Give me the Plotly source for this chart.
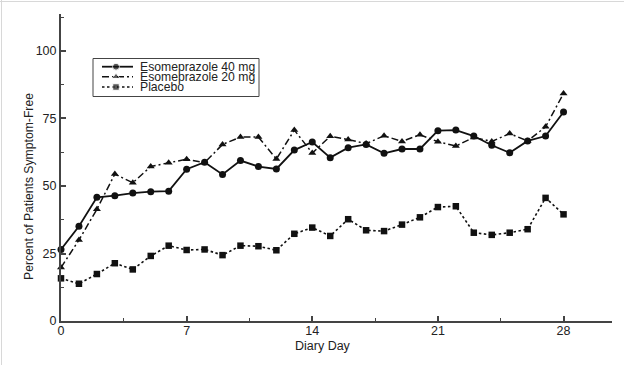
import plotly.graph_objects as go

# ---------------- data ----------------
days = list(range(29))
eso40 = [26.5, 35.1, 45.8, 46.4, 47.4, 47.9, 48.1, 56.2, 58.8, 54.3, 59.4, 57.2, 56.3, 63.3, 66.3,
         60.5, 64.2, 65.4, 62.1, 63.7, 63.7, 70.5, 70.7, 68.5, 65.1, 62.3, 66.7, 68.5, 77.4]
eso20 = [19.8, 30.0, 41.4, 54.4, 51.2, 57.2, 58.6, 59.9, 58.6, 65.4, 68.1, 68.1, 60.0, 70.7, 62.2,
         68.4, 67.2, 65.7, 68.6, 66.5, 69.0, 66.4, 64.8, 68.0, 66.5, 69.4, 66.7, 71.9, 84.3]
placebo = [15.8, 13.8, 17.4, 21.4, 19.1, 24.1, 27.9, 26.3, 26.5, 24.4, 27.9, 27.7, 26.2, 32.3, 34.6,
           31.5, 37.7, 33.6, 33.3, 35.7, 38.4, 42.2, 42.5, 32.7, 31.9, 32.7, 34.0, 45.6, 39.5]
series_names = ["Esomeprazole 40 mg", "Esomeprazole 20 mg", "Placebo"]
x_ticks = [0, 7, 14, 21, 28]
y_ticks = [0, 25, 50, 75, 100]
x_title = "Diary Day"
y_title = "Percent of Patients Symptom-Free"

# ---------------- layout geometry (page pixels) ----------------
W, H = 624, 365
L, R, T, B = 61, 12, 14, 44
PW, PH = W - L - R, H - T - B
FONT = "Liberation Sans, Arial, Helvetica, sans-serif"
INK = "#111111"
AX = "#444444"
TXT = "#222222"

def px(xp):
    return (xp - L) / PW

def py(yp):
    return (H - B - yp) / PH

styles = [
    dict(dash="solid", width=1.8, symbol="circle", size=7),
    dict(dash="7px,3px,2px,3px", width=1.5, symbol="triangle-up", size=7),
    dict(dash="2.5px,2.5px", width=1.6, symbol="square", size=6.5),
]

fig = go.Figure()
for name, vals, st in zip(series_names, [eso40, eso20, placebo], styles):
    fig.add_trace(go.Scatter(
        x=days, y=vals, name=name, mode="lines+markers",
        line=dict(color=INK, width=st["width"], dash=st["dash"]),
        marker=dict(symbol=st["symbol"], size=st["size"], color=INK),
        cliponaxis=False, showlegend=False,
    ))

# custom (compact) legend drawn on a pixel-scaled overlay axis
rows = [66.7, 76.7, 87.0]
for name, st, ry in zip(series_names, styles, rows):
    fig.add_trace(go.Scatter(
        x=[102, 116, 133], y=[ry, ry, ry], xaxis="x2", yaxis="y2",
        mode="lines+markers",
        line=dict(color=INK, width=st["width"], dash=st["dash"]),
        marker=dict(symbol=st["symbol"], size=[0, st["size"], 0], color=INK),
        showlegend=False, hoverinfo="skip",
    ))
    fig.add_annotation(x=px(138), y=py(ry), xref="paper", yref="paper", text=name,
                       showarrow=False, xanchor="left", yanchor="middle",
                       font=dict(family=FONT, size=12.2, color=TXT))

fig.add_shape(type="rect", xref="paper", yref="paper", x0=px(93), x1=px(259),
              y0=py(58.5), y1=py(96.5),
              line=dict(color="#444", width=1), fillcolor="rgba(0,0,0,0)", layer="below")

# axis titles
fig.add_annotation(x=px(323), y=py(345.5), xref="paper", yref="paper", text=x_title,
                   showarrow=False, xanchor="center", yanchor="middle",
                   font=dict(family=FONT, size=12.5, color=TXT))
fig.add_annotation(x=px(29), y=py(187), xref="paper", yref="paper", text=y_title,
                   showarrow=False, textangle=-90, xanchor="center", yanchor="middle",
                   font=dict(family=FONT, size=12.2, color=TXT))

# faint image frame (top and left)
fig.add_shape(type="line", xref="paper", yref="paper", x0=px(0), x1=px(W), y0=py(1.5), y1=py(1.5),
              line=dict(color="#d8d8d8", width=1))
fig.add_shape(type="line", xref="paper", yref="paper", x0=px(1.5), x1=px(1.5), y0=py(0), y1=py(H),
              line=dict(color="#d8d8d8", width=1))

axis_common = dict(
    showgrid=False, zeroline=False, showline=True, linecolor=AX, linewidth=2,
    ticks="inside", ticklen=5, tickwidth=1.5, tickcolor=AX,
    tickfont=dict(family=FONT, size=12.5, color=TXT),
)
fig.update_layout(
    width=W, height=H, margin=dict(l=L, r=R, t=T, b=B, pad=0),
    paper_bgcolor="white", plot_bgcolor="white", showlegend=False,
    xaxis=dict(range=[0, 30.7], tickvals=x_ticks, ticktext=[str(v) for v in x_ticks],
               ticklabelstandoff=-3,
               minor=dict(dtick=3.5, tick0=0, ticks="inside", ticklen=3, tickcolor=AX, tickwidth=1),
               **axis_common),
    yaxis=dict(range=[0, 113.7], tickvals=y_ticks, ticktext=[str(v) for v in y_ticks],
               minor=dict(dtick=12.5, tick0=0, ticks="inside", ticklen=3, tickcolor=AX, tickwidth=1),
               **axis_common),
    xaxis2=dict(overlaying="x", anchor="y2", range=[L, W - R], visible=False, fixedrange=True),
    yaxis2=dict(overlaying="y", anchor="x2", range=[H - B, T], visible=False, fixedrange=True),
)

# remove the browser's default 8px body margin so the figure sits at the page origin
fig.write_html("out.html", config={"displayModeBar": False},
               post_script="document.body.style.margin='0px';")
